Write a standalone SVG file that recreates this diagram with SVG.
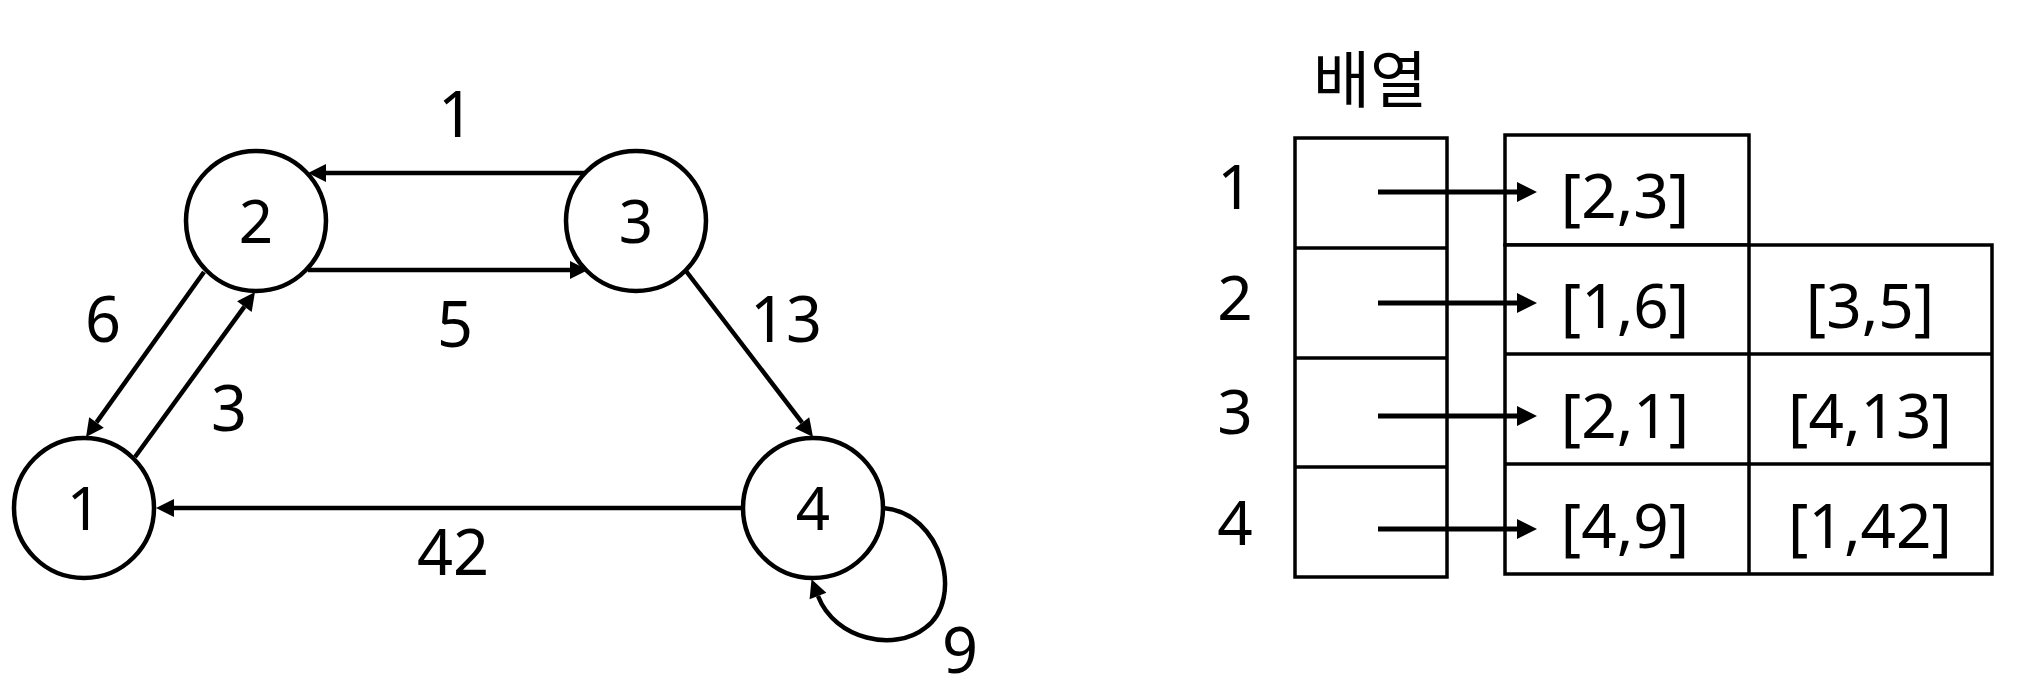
<svg xmlns="http://www.w3.org/2000/svg" width="2028" height="698" viewBox="0 0 2028 698">
  <style>
    .node { fill: #ffffff; stroke: #000000; stroke-width: 4.5; }
    .lbl { font-family: "Noto Sans", "Noto Sans CJK KR", sans-serif; font-size: 60px; fill: #000000; text-anchor: middle; }
    .cellText { font-family: "Noto Sans", "Noto Sans CJK KR", sans-serif; font-size: 62px; fill: #000000; text-anchor: middle; }
    .wt { font-family: "Noto Sans", "Noto Sans CJK KR", sans-serif; font-size: 63px; fill: #000000; text-anchor: middle; }
    .edge { fill: none; stroke: #000000; stroke-width: 4.5; marker-end: url(#arrow); }
    .ptr { fill: none; stroke: #000000; stroke-width: 5; marker-end: url(#arrowBig); }
    .cell { fill: #ffffff; stroke: #000000; stroke-width: 3.5; }
    .grid { stroke: #000000; stroke-width: 3.5; }
  </style>
  <defs>
    <marker id="arrow" markerUnits="userSpaceOnUse" markerWidth="20" markerHeight="20" refX="0" refY="9" orient="auto" overflow="visible">
      <path d="M0,0 L18,9 L0,18 Z" fill="#000000"/>
    </marker>
    <marker id="arrowBig" markerUnits="userSpaceOnUse" markerWidth="22" markerHeight="22" refX="0" refY="10" orient="auto" overflow="visible">
      <path d="M0,0 L20,10 L0,20 Z" fill="#000000"/>
    </marker>
  </defs>
  <rect width="2028" height="698" fill="#ffffff"/>

  <!-- graph edges -->
  <g id="connectors">
    <path class="edge" d="M585,173 L326,173"/>
    <path class="edge" d="M308,270 L570,270"/>
    <path class="edge" d="M204,272 L96.5,422.4"/>
    <path class="edge" d="M135,457 L244.4,306.6"/>
    <path class="edge" d="M686,271 L802.1,422.7"/>
    <path class="edge" d="M743,508 L174,508"/>
    <path class="edge" d="M883,508 C942,512 965,600 925,628 C895,652 835,640 818,596"/>
  </g>

  <!-- edge weights -->
  <g id="weights">
    <text class="wt" x="456" y="137">1</text>
    <text class="wt" x="455" y="347">5</text>
    <text class="wt" x="103" y="342">6</text>
    <text class="wt" x="229" y="431">3</text>
    <text class="wt" x="786" y="342">13</text>
    <text class="wt" x="453" y="575">42</text>
    <text class="wt" x="960" y="673">9</text>
  </g>

  <!-- vertices -->
  <g id="node-1">
    <circle class="node" cx="84" cy="508" r="70"/>
    <text class="lbl" x="84" y="530">1</text>
  </g>
  <g id="node-2">
    <circle class="node" cx="256" cy="221" r="70"/>
    <text class="lbl" x="256" y="243">2</text>
  </g>
  <g id="node-3">
    <circle class="node" cx="636" cy="221" r="70"/>
    <text class="lbl" x="636" y="243">3</text>
  </g>
  <g id="node-4">
    <circle class="node" cx="813" cy="508" r="70"/>
    <text class="lbl" x="813" y="530">4</text>
  </g>

  <!-- adjacency array -->
  <g id="array">
    <text class="lbl" x="1370" y="103" style="font-family: 'Noto Sans CJK KR', sans-serif; font-size: 62px;">배열</text>
    <rect class="cell" x="1295" y="138" width="152" height="439"/>
    <line class="grid" x1="1295" y1="248" x2="1447" y2="248"/>
    <line class="grid" x1="1295" y1="358" x2="1447" y2="358"/>
    <line class="grid" x1="1295" y1="467" x2="1447" y2="467"/>
    <text class="cellText" x="1235" y="209">1</text>
    <text class="cellText" x="1235" y="320">2</text>
    <text class="cellText" x="1235" y="434">3</text>
    <text class="cellText" x="1235" y="545">4</text>
  </g>

  <!-- adjacency lists -->
  <g id="lists">
    <rect class="cell" x="1505" y="135" width="244" height="110"/>
    <rect class="cell" x="1505" y="245" width="487" height="329"/>
    <line class="grid" x1="1749" y1="245" x2="1749" y2="574"/>
    <line class="grid" x1="1505" y1="354" x2="1992" y2="354"/>
    <line class="grid" x1="1505" y1="464" x2="1992" y2="464"/>
    <text class="cellText" x="1625" y="218">[2,3]</text>
    <text class="cellText" x="1625" y="328">[1,6]</text>
    <text class="cellText" x="1870" y="328">[3,5]</text>
    <text class="cellText" x="1625" y="438">[2,1]</text>
    <text class="cellText" x="1870" y="438">[4,13]</text>
    <text class="cellText" x="1625" y="548">[4,9]</text>
    <text class="cellText" x="1870" y="548">[1,42]</text>
  </g>

  <!-- pointers from array slots to list heads -->
  <g id="pointers">
    <path class="ptr" d="M1378,192 L1517,192"/>
    <path class="ptr" d="M1378,303 L1517,303"/>
    <path class="ptr" d="M1378,416 L1517,416"/>
    <path class="ptr" d="M1378,529 L1517,529"/>
  </g>
</svg>
